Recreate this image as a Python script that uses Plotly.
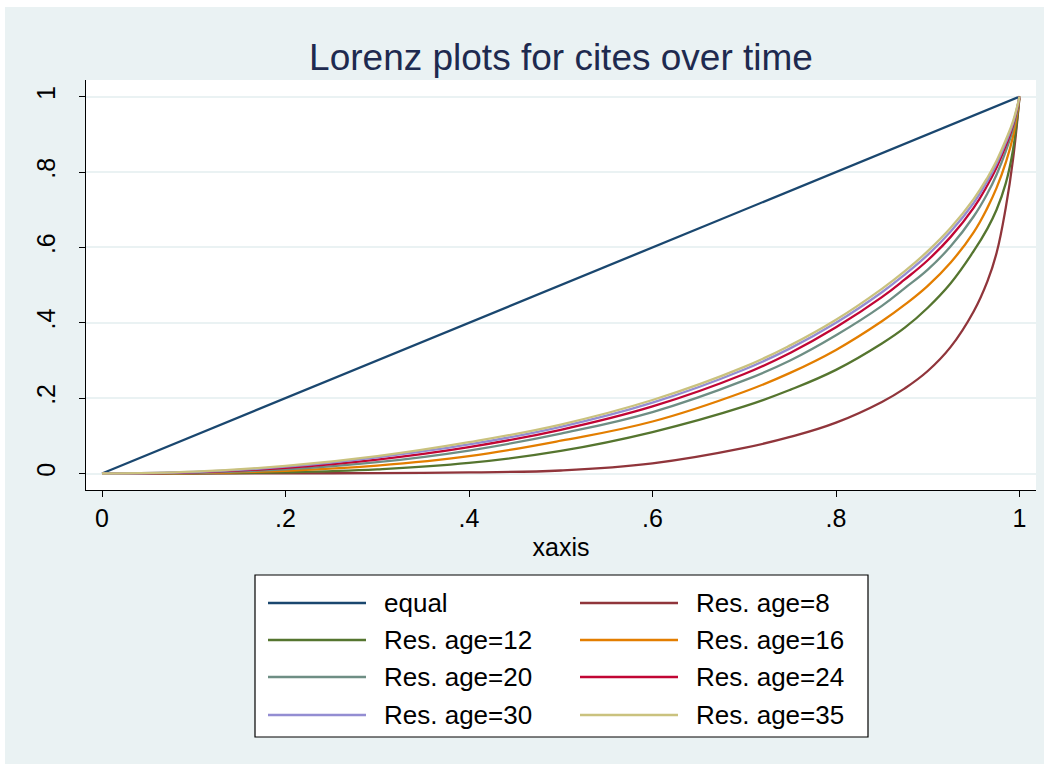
import plotly.graph_objects as go

# Cumulative share of papers (x) and cumulative share of cites (y)
x_share = [0, 0.1, 0.2, 0.3, 0.4, 0.5, 0.6, 0.7, 0.75, 0.8, 0.85, 0.875, 0.9,
           0.925, 0.95, 0.965, 0.975, 0.985, 0.993, 1.0]

equal_x = [0, 1]
equal_y = [0, 1]

age8 = [0, 0, 0.0005, 0.001, 0.003, 0.008, 0.027, 0.068, 0.097, 0.135, 0.190, 0.226, 0.272,
        0.336, 0.430, 0.510, 0.585, 0.705, 0.835, 1]
age12 = [0, 0.0005, 0.003, 0.011, 0.028, 0.060, 0.110, 0.178, 0.222, 0.275, 0.345, 0.387, 0.440,
         0.505, 0.590, 0.650, 0.700, 0.770, 0.860, 1]
age16 = [0, 0.001, 0.007, 0.021, 0.046, 0.087, 0.138, 0.217, 0.267, 0.328, 0.404, 0.448, 0.498,
         0.560, 0.640, 0.705, 0.758, 0.825, 0.895, 1]
age20 = [0, 0.002, 0.011, 0.030, 0.061, 0.106, 0.163, 0.247, 0.300, 0.367, 0.445, 0.492, 0.541,
         0.603, 0.682, 0.743, 0.793, 0.855, 0.915, 1]
age24 = [0, 0.003, 0.015, 0.037, 0.070, 0.116, 0.178, 0.264, 0.320, 0.388, 0.468, 0.515, 0.566,
         0.628, 0.705, 0.765, 0.812, 0.870, 0.925, 1]
age30 = [0, 0.004, 0.018, 0.043, 0.077, 0.124, 0.188, 0.276, 0.332, 0.400, 0.481, 0.528, 0.580,
         0.642, 0.718, 0.776, 0.822, 0.878, 0.930, 1]
age35 = [0, 0.005, 0.020, 0.046, 0.083, 0.130, 0.195, 0.283, 0.340, 0.408, 0.490, 0.537, 0.590,
         0.652, 0.728, 0.785, 0.830, 0.885, 0.935, 1]

series_names = ["equal", "Res. age=8", "Res. age=12", "Res. age=16",
                "Res. age=20", "Res. age=24", "Res. age=30", "Res. age=35"]
series_y = [equal_y, age8, age12, age16, age20, age24, age30, age35]
series_colors = ["#1a476f", "#90353b", "#55752f", "#e37e00",
                 "#6e8e84", "#c10534", "#938dd2", "#cac27e"]

tick_vals = [0, 0.2, 0.4, 0.6, 0.8, 1]
tick_text = ["0", ".2", ".4", ".6", ".8", "1"]

W, H = 1049, 769
ML, MR, MT, MB = 86, 13, 80, 279
PW, PH = W - ML - MR, H - MT - MB
FONT = "Liberation Sans, Arial, sans-serif"


def px(xp):
    return (xp - ML) / PW


def py(yp):
    return (H - MB - yp) / PH


fig = go.Figure()
for name, ys, col in zip(series_names, series_y, series_colors):
    xs = equal_x if name == "equal" else x_share
    fig.add_trace(go.Scatter(
        x=xs, y=ys, mode="lines", name=name,
        line=dict(color=col, width=2.3, shape="linear" if name == "equal" else "spline",
                  smoothing=1.2),
        showlegend=False,
    ))

shapes = []
annotations = []

# Outer white frame around the light background
shapes.append(dict(type="rect", xref="paper", yref="paper",
                   x0=px(0), x1=px(W), y0=py(H), y1=py(2),
                   line=dict(color="white", width=10), fillcolor="rgba(0,0,0,0)",
                   layer="above"))

# Legend box with two columns, filled row by row
box_l, box_r, box_t, box_b = 255, 868, 575, 737
shapes.append(dict(type="rect", xref="paper", yref="paper",
                   x0=px(box_l), x1=px(box_r), y0=py(box_b), y1=py(box_t),
                   line=dict(color="black", width=1.2), fillcolor="white", layer="above"))
row_y = [603, 640, 677, 715]
col_line = [(268, 366), (580, 678)]
col_text = [382, 694]
for i, (name, col) in enumerate(zip(series_names, series_colors)):
    r, c = divmod(i, 2)
    shapes.append(dict(type="line", xref="paper", yref="paper",
                       x0=px(col_line[c][0]), x1=px(col_line[c][1]),
                       y0=py(row_y[r]), y1=py(row_y[r]),
                       line=dict(color=col, width=2.3), layer="above"))
    annotations.append(dict(xref="paper", yref="paper", x=px(col_text[c]), y=py(row_y[r]),
                            text=name, showarrow=False, xanchor="left", yanchor="middle",
                            font=dict(family=FONT, size=26, color="black")))

fig.update_layout(
    width=W, height=H,
    margin=dict(l=ML, r=MR, t=MT, b=MB, pad=0),
    paper_bgcolor="#eaf2f3",
    plot_bgcolor="white",
    showlegend=False,
    title=dict(text="Lorenz plots for cites over time", x=px(561), xref="paper",
               xanchor="center", y=1 - 57 / H, yanchor="middle",
               font=dict(family=FONT, size=37, color="#1e2a4f")),
    xaxis=dict(range=[(86 - 102) / 917.5, (1036 - 102) / 917.5],
               tickvals=tick_vals, ticktext=tick_text,
               showgrid=False, zeroline=False,
               showline=True, linecolor="black", linewidth=1.3,
               ticks="outside", ticklen=6, tickcolor="black", tickwidth=1.3,
               tickfont=dict(family=FONT, size=25, color="black"),
               title=dict(text="xaxis", standoff=7,
                          font=dict(family=FONT, size=25, color="black"))),
    yaxis=dict(range=[(473.5 - 490) / 376.8, (473.5 - 80) / 376.8],
               tickvals=tick_vals, ticktext=tick_text, tickangle=-90,
               showgrid=True, gridcolor="#eaf2f3", gridwidth=2,
               zeroline=False,
               showline=True, linecolor="black", linewidth=1.3,
               ticks="outside", ticklen=6, tickcolor="black", tickwidth=1.3,
               ticklabelstandoff=14,
               tickfont=dict(family=FONT, size=25, color="black")),
    shapes=shapes,
    annotations=annotations,
)

fig.write_html("out.html")
